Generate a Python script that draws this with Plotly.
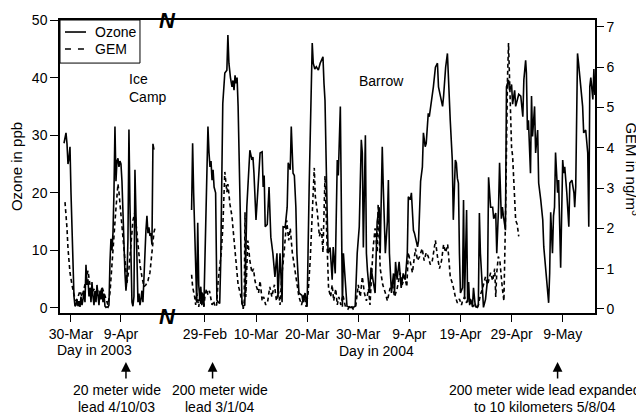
import pandas as pd
import plotly.graph_objects as go

# ---------------- data ----------------
# Ice Camp 2003: time in days after 2003-03-30 00:00
o3_2003_day = [-1.4, -1.2, -1.0, -0.8, -0.6, -0.4, -0.2, 0.0, 0.2, 0.4, 0.6, 0.8, 1.0, 1.2, 1.4, 1.6, 1.8, 2.0,
               2.2, 2.4, 2.6, 2.8, 3.0, 3.2, 3.4, 3.6, 3.8, 4.0, 4.2, 4.4, 4.6, 4.8, 5.0, 5.2, 5.4, 5.6, 5.8, 6.0,
               6.2, 6.4, 6.6, 6.8, 7.0, 7.2, 7.4, 7.6, 7.8, 8.0, 8.2, 8.4, 8.6, 8.8, 9.0, 9.2, 9.4, 9.6, 9.8, 10.0,
               10.2, 10.4, 10.6, 10.8, 11.0, 11.2, 11.4, 11.6, 11.8, 12.0, 12.2, 12.4, 12.6, 12.8, 13.0, 13.2, 13.4,
               13.6, 13.8, 14.0, 14.2, 14.4, 14.6, 14.8, 15.0, 15.2, 15.4, 15.6, 15.8, 16.0, 16.2, 16.4, 16.6]
o3_2003_ppb = [28.6, 29.5, 30.4, 28.5, 25, 26, 28, 20, 12, 6, 2, 0.3, 0.5, 1.5, 0.3, 1.2, 0.2, 2,
               0.5, 1.5, 3, 1, 7.5, 4, 5, 2, 3.5, 1, 4.5, 2, 0.5, 3, 1, 4, 2.5, 0.5, 3, 1.5,
               3.5, 1, 2.5, 0.3, 0.1, 0.2, 0.1, 0.5, 8, 12, 10, 13, 20, 31.5, 22, 25.5, 26, 24.5, 25.5, 25,
               22, 15, 9, 6, 3, 5, 12, 31, 18, 8, 1, 0.3, 2, 24, 14, 5, 1,
               2.5, 0.5, 1.5, 3, 1, 6, 12, 13.5, 16, 13, 14, 12.5, 13, 11, 28.5, 27.5]
gem_2003_day = [-1.2, -1.0, -0.8, -0.6, -0.4, -0.2, 0.2, 0.6, 1.0, 1.4, 1.8, 2.2, 2.6, 3.0, 3.4, 3.8, 4.2, 4.6,
                5.0, 5.4, 5.8, 6.2, 6.6, 7.0, 7.4, 7.8, 8.2, 8.6, 9.0, 9.4, 9.6, 9.8, 10.2, 10.6, 11.0, 11.2,
                11.6, 12.0, 12.4, 12.8, 13.0, 13.4, 13.8, 14.2, 14.6, 15.0, 15.4, 15.8, 16.2, 16.6, 16.8]
gem_2003_ng = [2.65, 2.4, 2.0, 1.5, 1.2, 0.9, 0.6, 0.35, 0.2, 0.3, 0.45, 0.3, 0.5, 0.7, 0.95, 0.6, 0.4, 0.5,
               0.3, 0.45, 0.3, 0.55, 0.4, 0.2, 0.1, 0.4, 1.0, 1.8, 2.5, 3.1, 2.9, 2.6, 2.0, 1.4, 0.9, 0.65,
               1.0, 1.6, 2.2, 2.4, 2.1, 1.5, 1.1, 0.8, 0.55, 0.6, 0.7, 0.9, 1.5, 1.9, 2.0]

# Barrow 2004: time in days after 2004-02-29 00:00
o3_2004_day = [-2.6, -2.4, -2.2, -1.9, -1.6, -1.4, -1.2, -1.0, -0.8, -0.6, -0.4, -0.2, 0.0, 0.2, 0.4, 0.6, 0.8,
               1.0, 1.2, 1.4, 1.6, 1.8, 2.1, 2.35, 2.6, 2.9, 3.1, 3.3, 3.5, 3.9, 4.3, 4.5, 4.7, 5.0, 5.3, 5.5,
               5.7, 5.9, 6.1, 6.3, 6.5, 6.9, 7.25, 7.45, 7.8, 8.2, 8.8, 9.2, 9.4, 9.6, 10.0, 10.4, 10.8, 11.2,
               11.4, 11.6, 11.8, 12.2, 12.55, 12.9, 13.3, 13.7, 14.1, 14.3, 14.7, 15.1, 15.3, 15.7, 16.1, 16.3,
               16.7, 16.9, 17.25, 17.5, 17.8, 18.0, 18.4, 19.0, 19.2, 19.6, 20.0, 20.4, 21.0, 21.2, 21.5, 21.8,
               22.2, 22.55, 22.9, 23.1, 23.3, 23.5, 23.9, 24.1, 24.5, 24.9, 25.1, 25.5, 25.9, 26.1, 26.5, 26.7,
               26.9, 27.1, 27.45, 27.8, 28.4, 29.0, 29.4, 29.6, 29.8, 30.2, 30.6, 30.8, 31.0, 31.4, 31.6, 31.8,
               32.2, 32.5, 32.9, 33.3, 33.7, 34.1, 34.3, 34.7, 34.9, 35.3, 35.7, 35.9, 36.1, 36.5, 36.9, 37.1,
               37.3, 37.6, 38.0, 38.4, 38.8, 39.2, 39.6, 39.8, 40.2, 40.4, 40.8, 41.0, 41.6, 41.8, 42.2, 42.55,
               42.75, 43.1, 43.3, 43.7, 43.9, 44.3, 44.7, 45.1, 45.5, 45.7, 46.1, 46.5, 46.7, 47.1, 47.45, 47.65,
               48.0, 48.4, 48.6, 49.0, 49.2, 49.4, 49.6, 49.8, 50.0, 50.4, 50.6, 50.8, 51.2, 51.4, 51.6, 51.8,
               52.0, 52.35, 52.55, 52.9, 53.3, 53.5, 53.7, 53.9, 54.3, 54.5, 54.9, 55.3, 55.5, 55.7, 55.9, 56.3,
               56.5, 56.9, 57.1, 57.45, 57.65, 58.0, 58.2, 58.4, 58.8, 59.0, 59.4, 59.6, 60.0, 60.2, 60.6, 60.8,
               61.2, 61.4, 61.8, 62.2, 62.4, 62.75, 62.9, 63.1, 63.3, 63.7, 63.9, 64.1, 64.5, 64.7, 65.1, 65.3,
               65.7, 66.1, 66.3, 66.7, 67.1, 67.25, 67.45, 67.65, 68.0, 68.2, 68.4, 68.6, 69.0, 69.2, 69.6, 70.0,
               70.2, 70.4, 70.8, 71.2, 71.4, 71.8, 72.2, 72.35, 72.55, 72.9, 73.1, 73.5, 73.9, 74.1, 74.5, 74.9,
               75.1, 75.3, 75.5, 75.9, 76.1, 76.3]
o3_2004_ppb = [17, 28.6, 20, 8, 0.9, 14.8, 4, 1.5, 3.7, 0.5, 2.5, 0.3, 8, 18, 26, 31.5, 27,
               24.5, 25.5, 22.2, 24, 21, 20, 1.4, 1, 0.8, 8, 22, 35.5, 40.8, 41.3, 47.4, 42.5, 40, 38.4, 39.5,
               37.8, 40.4, 39, 40, 35, 17.5, 0.8, 0.3, 0.5, 17.5, 27.4, 25.7, 26.2, 23.4, 15.3, 21, 26.9, 27.1,
               21, 23, 14.1, 14.5, 21, 12.3, 9.5, 5.4, 9.5, 1.9, 9.5, 1, 14.1, 14, 17.5, 25.2,
               24, 31.5, 23.4, 23, 17.5, 9.5, 2.6, 2.2, 1, 2.6, 0.2, 21, 46, 42.5, 41.5, 41.9,
               41.3, 42.5, 43.4, 43.6, 39, 36, 17.5, 9.5, 10.5, 4.9, 10.6, 6, 25.7, 23, 35, 20,
               0.2, 9.5, 5.5, 0.3, 0.1, 0.1, 0.3, 5.5, 9.5, 14.1, 29.2, 26.9, 10.5, 30, 9.5, 6.5,
               2.6, 7, 5, 2.6, 15, 17.5, 9.5, 28, 21, 9.5, 15, 22.2, 9.5, 2.6, 6, 2.6,
               8, 4.9, 8, 3.5, 6, 4.9, 9.5, 19.3, 18.8, 20, 13.5, 13, 10.6, 11.7, 22, 24.5,
               30.4, 28, 28.6, 33.8, 33.2, 35.6, 38.4, 41.8, 42.5, 38.4, 36.8, 35, 36.8, 41.8, 44.2, 39.6,
               32.6, 25.7, 15.3, 25.7, 25.2, 22.5, 21.7, 9.5, 2.6, 3.5, 18.75, 1.5, 17, 1, 4.5, 0.5,
               1.5, 0.3, 3.5, 0.3, 0.1, 0.5, 16.5, 9.5, 2.6, 0.1, 1.5, 5, 22.7, 18.75, 17.5, 17.5,
               15.5, 16.5, 9.5, 17.5, 25.2, 15.5, 17.5, 16, 13.5, 38.4, 39.6, 37.8, 38.8, 35.4, 37.8, 35,
               36.8, 37.1, 36.8, 33.2, 39.6, 43, 40.8, 30.9, 32.6, 23.4, 36.8, 29.8, 35, 26.9, 30.9, 21.7,
               18.8, 15.3, 10.6, 7, 2.6, 0.9, 6, 16.6, 9.5, 16, 17.5, 27, 20, 22.2, 7, 25.7,
               23.4, 24.5, 20, 14.1, 21.7, 22.2, 20, 17.5, 21, 44.2, 42.5, 39, 35, 30.4, 30.9, 26.9,
               14.1, 38.4, 40, 36.2, 41.5, 37]
gem_2004_day = [-2.6, -2.4, -2.0, -1.8, -1.6, -1.4, -1.2, -1.0, -0.8, -0.6, -0.4, -0.2, 0.0, 0.3, 0.6, 0.9,
                1.4, 1.7, 2.0, 2.3, 2.6, 2.9, 3.2, 3.5, 3.9, 4.3, 4.5, 4.9, 5.3, 5.5, 5.9, 6.3, 6.5, 6.9, 7.25,
                7.5, 7.7, 7.85, 8.0, 8.4, 8.8, 9.2, 9.5, 9.8, 10.1, 10.5, 10.8, 11.2, 11.5, 11.9, 12.3, 12.7,
                13.1, 13.6, 14.0, 14.4, 14.7, 15.1, 15.5, 16.0, 16.4, 16.7, 17.1, 17.6, 18.0, 18.4, 18.9, 19.4,
                19.8, 20.2, 20.6, 21.0, 21.4, 21.6, 22.0, 22.4, 22.8, 23.1, 23.5, 23.9, 24.2, 24.6, 24.9, 25.2,
                25.6, 25.9, 26.2, 26.6, 27.0, 27.5, 28.0, 28.5, 29.0, 29.5, 30.0, 30.4, 30.8, 31.2, 31.6, 32.0,
                32.3, 32.9, 33.3, 33.7, 33.9, 34.3, 34.8, 35.3, 35.7, 36.2, 36.7, 37.1, 37.6, 38.2, 38.6, 39.1,
                39.5, 39.8, 40.2, 40.6, 41.2, 41.6, 42.0, 42.5, 42.9, 43.3, 43.7, 44.1, 44.5, 45.1, 45.5, 45.9,
                46.3, 46.7, 47.1, 47.5, 48.0, 48.5, 49.0, 49.4, 49.8, 50.2, 50.4, 50.8, 51.2, 51.6, 52.0, 52.4,
                52.8, 53.2, 53.5, 53.9, 54.3, 54.9, 55.3, 55.9, 56.3, 56.7, 56.9, 57.1, 57.4, 57.7, 58.2, 58.5,
                58.8, 59.0, 59.2, 59.4, 59.6, 59.8, 60.0, 60.2, 60.5, 60.8, 61.1, 61.4]
gem_2004_ng = [0.85, 0.55, 0.3, 0.1, 0.4, 0.15, 0.05, 0.3, 0.1, 0.45, 0.2, 0.05, 0.3, 0.5, 0.35, 0.45,
               0.1, 0.2, 0.05, 0.1, 0.7, 1.0, 1.4, 2.0, 3.4, 2.9, 3.1, 2.6, 2.3, 2.0, 1.5, 1.0, 0.6, 0.4, 0.1,
               0.0, 0.2, 2.4, 0.3, 1.7, 1.2, 0.9, 1.0, 0.7, 0.55, 0.4, 0.7, 0.2, 0.3, 0.1, 0.2, 0.55,
               0.3, 0.6, 0.2, 0.45, 0.1, 0.9, 1.4, 2.2, 1.7, 2.0, 1.4, 1.0, 0.6, 0.3, 0.1, 0.35,
               0.05, 0.4, 1.2, 2.5, 3.5, 2.8, 2.4, 1.8, 2.0, 1.4, 3.3, 1.6, 0.5, 0.3, 0.6, 0.2,
               0.5, 0.1, 0.3, 0.1, 0.35, 0.05, 0.0, 0.1, 0.0, 0.05, 0.6, 0.3, 0.8, 0.4, 0.2, 0.5,
               0.1, 1.5, 2.0, 1.4, 2.6, 1.0, 0.6, 0.4, 0.2, 0.5, 0.6, 0.3, 0.5, 0.9, 0.6, 0.8,
               0.55, 1.4, 1.1, 0.9, 1.5, 1.2, 1.3, 1.5, 1.2, 1.4, 1.3, 1.1, 1.2, 1.7, 1.3, 1.0,
               1.2, 1.6, 1.4, 1.6, 0.8, 0.6, 0.3, 0.15, 0.25, 0.1, 0.2, 0.3, 0.15, 0.35, 0.2, 0.05,
               0.15, 0.0, 0.1, 0.35, 0.5, 0.8, 0.6, 0.9, 0.7, 1.0, 0.3, 0.9, 1.3, 1.2, 0.5, 0.2,
               2.2, 4.7, 5.7, 6.6, 5.7, 4.8, 4.0, 3.8, 3.1, 2.2, 2.1, 1.8]

ticks_2003 = ["2003-03-30", "2003-04-09"]
ticklabels_2003 = ["30-Mar", "9-Apr"]
ticks_2004 = ["2004-02-29", "2004-03-10", "2004-03-20", "2004-03-30", "2004-04-09",
              "2004-04-19", "2004-04-29", "2004-05-09"]
ticklabels_2004 = ["29-Feb", "10-Mar", "20-Mar", "30-Mar", "9-Apr", "19-Apr", "29-Apr", "9-May"]
ozone_ticks = [0, 10, 20, 30, 40, 50]
gem_ticks = [0, 1, 2, 3, 4, 5, 6, 7]

series_names = ["Ozone", "GEM"]
lead_events = [("x", "2003-04-10", ["20 meter wide", "lead 4/10/03"], 0.1065),
               ("x2", "2004-03-01 12:00", ["200 meter wide", "lead 3/1/04"], 0.299),
               ("x2", "2004-05-08", ["200 meter wide lead expanded", "to 10 kilometers 5/8/04"], 0.9065)]


def to_time(base, days):
    return pd.Timestamp(base) + pd.to_timedelta(days, unit="D")


FONT = "Arial, Liberation Sans, Helvetica, sans-serif"
O3_LINE = dict(color="black", width=1.6)
GEM_LINE = dict(color="black", width=1.6, dash="4px,3px")

fig = go.Figure()
fig.add_trace(go.Scatter(x=to_time("2003-03-30", o3_2003_day), y=o3_2003_ppb, mode="lines",
                         name=series_names[0], line=O3_LINE, xaxis="x", yaxis="y"))
fig.add_trace(go.Scatter(x=to_time("2003-03-30", gem_2003_day), y=gem_2003_ng, mode="lines",
                         name=series_names[1], line=GEM_LINE, xaxis="x", yaxis="y2"))
fig.add_trace(go.Scatter(x=to_time("2004-02-29", o3_2004_day), y=o3_2004_ppb, mode="lines",
                         name=series_names[0], line=O3_LINE, xaxis="x2", yaxis="y"))
fig.add_trace(go.Scatter(x=to_time("2004-02-29", gem_2004_day), y=gem_2004_ng, mode="lines",
                         name=series_names[1], line=GEM_LINE, xaxis="x2", yaxis="y2"))

axis_common = dict(showline=True, linecolor="black", linewidth=1.5, showgrid=False, zeroline=False,
                   ticks="outside", tickcolor="black", tickwidth=1.2,
                   tickfont=dict(family=FONT, size=14, color="black"))

split = 0.198
# page body has an 8px margin, so the figure is 8px smaller and margins shifted accordingly
fig.update_layout(
    width=636, height=406,
    margin=dict(l=52, r=49, t=12, b=101, autoexpand=False),
    paper_bgcolor="white", plot_bgcolor="white",
    font=dict(family=FONT, size=14, color="black"),
    showlegend=False,
    xaxis=dict(domain=[0, split], type="date", range=["2003-03-27 19:12", "2003-04-18 00:00"],
               tickvals=ticks_2003, ticktext=ticklabels_2003, ticklen=7, mirror=True, anchor="y",
               **axis_common),
    xaxis2=dict(domain=[split, 1], type="date", range=["2004-02-21 09:05", "2004-05-15 07:40"],
                tickvals=ticks_2004, ticktext=ticklabels_2004, ticklen=7, mirror=True, anchor="y",
                **axis_common),
    yaxis=dict(range=[-0.87, 50], tickvals=ozone_ticks, ticklen=8, anchor="x",
               title=dict(text="Ozone in ppb", font=dict(family=FONT, size=15), standoff=8),
               **axis_common),
    yaxis2=dict(range=[-0.1, 7.17], tickvals=gem_ticks, ticklen=7, overlaying="y", side="right",
                anchor="x2", **axis_common),
)

# legend box (drawn to match the compact original)
shapes = [
    dict(type="rect", xref="paper", yref="paper", x0=0, x1=0.1495, y0=0.853, y1=1,
         line=dict(color="black", width=1), fillcolor="white", layer="above"),
    dict(type="line", xref="paper", yref="paper", x0=0.0093, x1=0.0486, y0=0.959, y1=0.959,
         line=dict(color="black", width=1.6), layer="above"),
    dict(type="line", xref="paper", yref="paper", x0=0.0093, x1=0.0486, y0=0.901, y1=0.901,
         line=dict(color="black", width=1.6, dash="6px,7px"), layer="above"),
]
fig.update_layout(shapes=shapes)


def label(text, x, y, size=14, **kw):
    d = dict(text=text, xref="paper", yref="paper", x=x, y=y, xanchor="center", yanchor="middle",
             showarrow=False, font=dict(family=FONT, size=size, color="black"))
    d.update(kw)
    return d


ann = []
ann.append(label(series_names[0], 0.0617, 0.959, xanchor="left"))
ann.append(label(series_names[1], 0.0617, 0.901, xanchor="left"))
# right axis title (reads top to bottom)
ann.append(label("GEM in ng/m<sup>3</sup>", 1.071, 0.49, size=15, textangle=90))
# axis-break marks
for yy in (1.0, -0.012):
    ann.append(label("<b><i>N</i></b>", 0.2, yy, size=22))
# site labels
ann.append(label("Ice<br>Camp", 0.126, 0.768, xanchor="left", align="left"))
ann.append(label("Barrow", 0.6, 0.792))
# year labels
ann.append(label("Day in 2003", 0.0654, -0.126))
ann.append(label("Day in 2004", 0.5925, -0.13))
# lead events: arrows + text
for xr, date, lines, xt in lead_events:
    ann.append(dict(text="", xref=xr, yref="paper", x=date, y=-0.167, ax=0, ay=18,
                    showarrow=True, arrowhead=2, arrowsize=1.3, arrowwidth=1.5, arrowcolor="black"))
    ann.append(label(lines[0], xt, -0.2628))
    ann.append(label(lines[1], xt, -0.3208))
fig.update_layout(annotations=ann)

fig.write_html("out.html")
